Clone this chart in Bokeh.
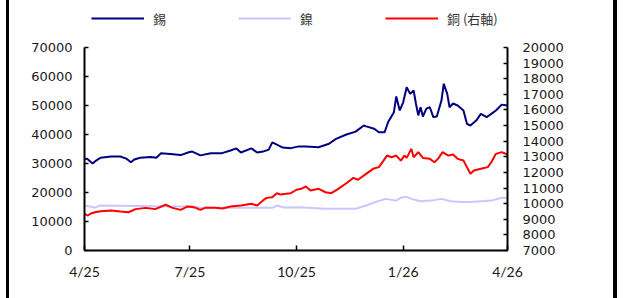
import pandas as pd
from bokeh.plotting import figure
from bokeh.models import (Range1d, LinearAxis, FixedTicker, CustomJSTickFormatter,
                          Legend, LegendItem)
from bokeh.embed import file_html
from bokeh.resources import INLINE

# ---------------- data ----------------
tin_dates = ["2025-04-01", "2025-04-03", "2025-04-08", "2025-04-11", "2025-04-15", "2025-04-24",
             "2025-05-02", "2025-05-07", "2025-05-11", "2025-05-14", "2025-05-19", "2025-05-28",
             "2025-06-02", "2025-06-06", "2025-06-14", "2025-06-23", "2025-06-30", "2025-07-03",
             "2025-07-10", "2025-07-19", "2025-07-28", "2025-08-05", "2025-08-10", "2025-08-14",
             "2025-08-23", "2025-08-28", "2025-09-02", "2025-09-07", "2025-09-10", "2025-09-14",
             "2025-09-19", "2025-09-26", "2025-10-03", "2025-10-09", "2025-10-20", "2025-10-29",
             "2025-11-04", "2025-11-13", "2025-11-21", "2025-11-28", "2025-11-30", "2025-12-07",
             "2025-12-11", "2025-12-16", "2025-12-19", "2025-12-24", "2025-12-26", "2025-12-29",
             "2026-01-01", "2026-01-04", "2026-01-07", "2026-01-10", "2026-01-12", "2026-01-14",
             "2026-01-16", "2026-01-18", "2026-01-21", "2026-01-24", "2026-01-27", "2026-01-30",
             "2026-02-03", "2026-02-05", "2026-02-08", "2026-02-10", "2026-02-13", "2026-02-17",
             "2026-02-22", "2026-02-25", "2026-02-28", "2026-03-05", "2026-03-09", "2026-03-14",
             "2026-03-18", "2026-03-22", "2026-03-27", "2026-04-01"]
tin_values = [31400, 31700, 30000, 31000, 32000, 32400,
              32400, 31700, 30400, 31400, 32000, 32200,
              32000, 33500, 33300, 32900, 33900, 34100,
              32800, 33500, 33500, 34500, 35200, 33800,
              35200, 33800, 34100, 34800, 37300, 36500,
              35500, 35300, 35900, 35900, 35600, 36800,
              38500, 40000, 41000, 43100, 42800, 42000,
              40800, 40800, 44300, 47700, 53100, 48300,
              51100, 56300, 54000, 55200, 50600, 46600,
              49400, 46200, 48900, 49400, 46000, 46200,
              51700, 57500, 54000, 49400, 50700, 50000,
              48300, 43700, 43100, 44800, 47100, 46000,
              47100, 48300, 50300, 50000]

nickel_dates = ["2025-04-01", "2025-04-10", "2025-04-14", "2025-06-01", "2025-07-05", "2025-07-10",
                "2025-09-10", "2025-09-14", "2025-09-20", "2025-10-03", "2025-10-26", "2025-11-21",
                "2025-11-30", "2025-12-08", "2025-12-17", "2025-12-26", "2025-12-30", "2026-01-04",
                "2026-01-08", "2026-01-16", "2026-01-25", "2026-02-03", "2026-02-11", "2026-02-20",
                "2026-02-28", "2026-03-09", "2026-03-18", "2026-03-27", "2026-04-01"]
nickel_values = [15500, 14800, 15500, 15300, 15200, 14700,
                 14700, 15500, 14800, 14900, 14400, 14400,
                 15500, 16700, 17800, 17200, 18200, 18500,
                 17800, 17000, 17200, 17800, 17000, 16700,
                 16700, 17000, 17200, 18200, 18200]

copper_dates = ["2025-04-01", "2025-04-04", "2025-04-06", "2025-04-10", "2025-04-15", "2025-04-24",
                "2025-05-02", "2025-05-09", "2025-05-15", "2025-05-24", "2025-06-01", "2025-06-10",
                "2025-06-16", "2025-06-23", "2025-06-29", "2025-07-03", "2025-07-06", "2025-07-10",
                "2025-07-14", "2025-07-23", "2025-07-29", "2025-08-05", "2025-08-14", "2025-08-23",
                "2025-08-28", "2025-09-02", "2025-09-05", "2025-09-10", "2025-09-14", "2025-09-17",
                "2025-09-22", "2025-09-26", "2025-10-01", "2025-10-05", "2025-10-09", "2025-10-13",
                "2025-10-20", "2025-10-26", "2025-10-31", "2025-11-06", "2025-11-13", "2025-11-19",
                "2025-11-23", "2025-11-30", "2025-12-06", "2025-12-11", "2025-12-15", "2025-12-18",
                "2025-12-22", "2025-12-26", "2025-12-30", "2026-01-02", "2026-01-04", "2026-01-08",
                "2026-01-10", "2026-01-14", "2026-01-18", "2026-01-24", "2026-01-28", "2026-01-31",
                "2026-02-04", "2026-02-09", "2026-02-13", "2026-02-17", "2026-02-22", "2026-02-25",
                "2026-02-28", "2026-03-03", "2026-03-09", "2026-03-15", "2026-03-18", "2026-03-22",
                "2026-03-27", "2026-04-01"]
copper_values = [9350, 9240, 9350, 9450, 9520, 9560,
                 9500, 9450, 9650, 9730, 9650, 9930,
                 9730, 9600, 9820, 9780, 9730, 9600,
                 9730, 9730, 9690, 9820, 9880, 9990,
                 9880, 10200, 10370, 10410, 10670, 10590,
                 10630, 10670, 10890, 10950, 11100, 10840,
                 10950, 10730, 10670, 10950, 11310, 11650,
                 11530, 11910, 12230, 12340, 12760, 13080,
                 12970, 13080, 12760, 13080, 12930, 13510,
                 12970, 13300, 12930, 12870, 12650, 12870,
                 13300, 13080, 13150, 12870, 12760, 12340,
                 11910, 12120, 12230, 12340, 12650, 13190,
                 13300, 13150]

x_tick_dates = ["2025-04-01", "2025-07-01", "2025-10-01", "2026-01-01", "2026-04-01"]
left_ticks = [0, 10000, 20000, 30000, 40000, 50000, 60000, 70000]
right_ticks = [7000, 8000, 9000, 10000, 11000, 12000, 13000, 14000, 15000, 16000,
               17000, 18000, 19000, 20000]

series_labels = ["錫", "鎳", "銅 (右軸)"]
series_colors = ["#000080", "#c8c8ff", "#ff0000"]

# ---------------- layout constants (pixels) ----------------
W, H = 604, 298
frame_h = 250            # frame runs from the canvas top down to the x axis
axis_span_px = 203       # height of the drawn axes (0..70000 / 7000..20000)
scale_up = frame_h / axis_span_px   # extend ranges so the legend fits inside the frame

# ---------------- figure ----------------
x_start = pd.Timestamp(x_tick_dates[0])
x_end = pd.Timestamp(x_tick_dates[-1])
l_lo, l_hi = left_ticks[0], left_ticks[-1]
r_lo, r_hi = right_ticks[0], right_ticks[-1]

p = figure(width=W, height=H, x_axis_type="datetime",
           x_range=Range1d(x_start, x_end),
           y_range=Range1d(l_lo, l_lo + (l_hi - l_lo) * scale_up),
           output_backend="svg", toolbar_location=None,
           min_border_left=75, min_border_right=106, min_border_top=0,
           min_border_bottom=H - frame_h,
           styles={"margin-left": "9px",
                   "box-shadow": "-3px 0 0 0 black, 4px 0 0 0 black"})
p.extra_y_ranges = {"right": Range1d(r_lo, r_lo + (r_hi - r_lo) * scale_up)}
p.outline_line_color = None
p.xgrid.visible = False
p.ygrid.visible = False
p.background_fill_color = "white"
p.border_fill_color = "white"

label_color = "#1a1a1a"

r_ni = p.line(pd.to_datetime(nickel_dates), nickel_values, line_color=series_colors[1], line_width=2)
r_tin = p.line(pd.to_datetime(tin_dates), tin_values, line_color=series_colors[0], line_width=2)
r_cu = p.line(pd.to_datetime(copper_dates), copper_values, line_color=series_colors[2], line_width=2,
              y_range_name="right")

# left axis
ya = p.yaxis[0]
ya.ticker = FixedTicker(ticks=left_ticks)
ya.bounds = (l_lo, l_hi)
ya.major_tick_in = 4
ya.major_tick_out = 0
ya.minor_tick_line_color = None
ya.axis_line_width = 2
ya.major_tick_line_width = 1.5
ya.major_label_standoff = 12
ya.major_label_text_font = "DejaVu Sans"
ya.major_label_text_font_size = "13px"
ya.major_label_text_color = label_color

# right axis
ra = LinearAxis(y_range_name="right", ticker=FixedTicker(ticks=right_ticks), bounds=(r_lo, r_hi))
ra.major_tick_in = 4
ra.major_tick_out = 0
ra.minor_tick_line_color = None
ra.axis_line_width = 2
ra.major_tick_line_width = 1.5
ra.major_label_standoff = 15
ra.major_label_text_font = "DejaVu Sans"
ra.major_label_text_font_size = "13px"
ra.major_label_text_color = label_color
p.add_layout(ra, "right")

# bottom axis
xa = p.xaxis[0]
xa.ticker = FixedTicker(ticks=[pd.Timestamp(d).value // 10**6 for d in x_tick_dates])
xa.formatter = CustomJSTickFormatter(code="""
const d = new Date(tick);
return (d.getUTCMonth() + 1) + "/" + String(d.getUTCFullYear()).slice(2);
""")
xa.major_tick_in = 5
xa.major_tick_out = 0
xa.minor_tick_line_color = None
xa.axis_line_width = 2
xa.major_tick_line_width = 1.5
xa.major_label_standoff = 12
xa.major_label_text_font = "Lato"
xa.major_label_text_font_size = "14px"
xa.major_label_text_color = label_color

# legend (inside the extended frame, above the drawn axes)
legend = Legend(items=[LegendItem(label=series_labels[0], renderers=[r_tin]),
                       LegendItem(label=series_labels[1], renderers=[r_ni]),
                       LegendItem(label=series_labels[2], renderers=[r_cu])],
                location=(7, 222), orientation="horizontal",
                glyph_width=53, glyph_height=20, label_standoff=9, label_width=85,
                spacing=0, padding=0, margin=0,
                border_line_color=None, background_fill_alpha=0,
                label_text_font="Noto Sans CJK TC", label_text_font_size="13px",
                label_text_color="#333333")
p.add_layout(legend, "center")

open("out.html", "w").write(file_html(p, INLINE))
